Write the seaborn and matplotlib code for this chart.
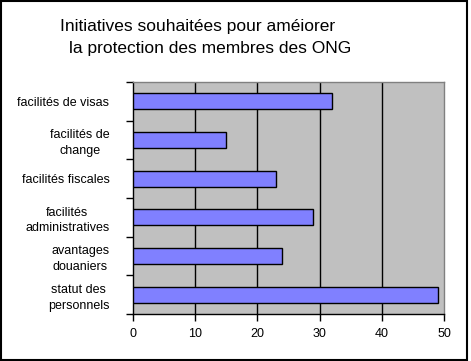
import matplotlib
matplotlib.use('Agg')
import matplotlib.pyplot as plt
import seaborn as sns
import pandas as pd
from matplotlib.patches import Rectangle

# données
categories = ['facilités de visas', 'facilités de\nchange', 'facilités fiscales',
              'facilités\nadministratives', 'avantages\ndouaniers', 'statut des\npersonnels']
valeurs = [32, 15, 23, 29, 24, 49]
xticks = [0, 10, 20, 30, 40, 50]
titre = ['Initiatives souhaitées pour améiorer', 'la protection des membres des ONG']

df = pd.DataFrame({'initiative': categories, 'n': valeurs})

sns.set_style('white')
plt.rcParams['font.family'] = ['Liberation Sans', 'DejaVu Sans']
plt.rcParams['text.color'] = 'black'
plt.rcParams['xtick.color'] = 'black'
plt.rcParams['ytick.color'] = 'black'

fig = plt.figure(figsize=(4.71, 3.61), dpi=100)
ax = fig.add_axes([0.2824, 0.1302, 0.6603, 0.6427])

sns.barplot(data=df, y='initiative', x='n', orient='h', color='#8080FF',
            saturation=1, width=0.42, edgecolor='black', linewidth=1, ax=ax, zorder=3)

ax.set_facecolor('#C0C0C0')
ax.set_xlim(0, 50)
ax.set_ylim(len(categories) - 0.5, -0.5)
ax.set_xticks(xticks)
ax.set_xticklabels([str(t) for t in xticks], fontsize=9, color='black')
for x in xticks[1:-1]:
    ax.axvline(x, color='black', lw=1, zorder=1)

ax.set_yticks(range(len(categories)))
ax.set_yticklabels(categories, fontsize=9, multialignment='center', linespacing=1.4,
                   color='black')
ax.tick_params(axis='y', which='major', length=0, pad=17)
ax.set_yticks([i - 0.5 for i in range(len(categories) + 1)], minor=True)
ax.tick_params(axis='y', which='minor', length=5, width=1, color='black', left=True)
ax.tick_params(axis='x', length=5, width=1, color='black', bottom=True, pad=5)

ax.set_xlabel('')
ax.set_ylabel('')
for s in ['left', 'bottom']:
    ax.spines[s].set_color('black')
    ax.spines[s].set_linewidth(1)
for s in ['top', 'right']:
    ax.spines[s].set_color('#808080')
    ax.spines[s].set_linewidth(1)
    ax.spines[s].set_visible(True)

fig.text(60 / 471, 1 - 26 / 361, titre[0], ha='left', va='center', fontsize=12.5,
         color='black')
fig.text(69 / 471, 1 - 49 / 361, titre[1], ha='left', va='center', fontsize=12.5,
         color='black')

fig.patches.append(Rectangle((0.003, 0.003), 0.989, 0.994, transform=fig.transFigure,
                             fill=False, edgecolor='black', linewidth=1.5))

fig.savefig('out.png', dpi=100)
